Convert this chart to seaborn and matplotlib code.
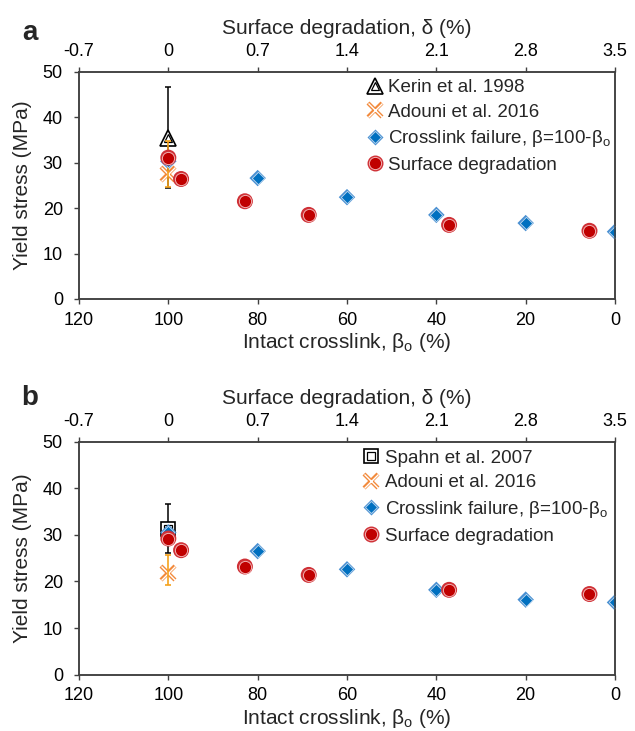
import matplotlib
matplotlib.use("Agg")
import matplotlib.pyplot as plt
import seaborn as sns
from matplotlib.lines import Line2D
from matplotlib.legend_handler import HandlerTuple

sns.set_style("ticks")
plt.rcParams["font.family"] = ["Liberation Sans", "DejaVu Sans"]
plt.rcParams["mathtext.fontset"] = "custom"
plt.rcParams["mathtext.rm"] = "Liberation Sans"
plt.rcParams["mathtext.it"] = "Liberation Sans:italic"

# ---- data -------------------------------------------------------------
beta_cross = [100, 80, 60, 40, 20, 0]                 # intact crosslink (%)
stress_cross_a = [30.3, 26.6, 22.4, 18.5, 16.7, 14.8]
stress_cross_b = [30.5, 26.5, 22.6, 18.2, 16.1, 15.5]

delta_surf = [0.0, 0.1, 0.6, 1.1, 2.2, 3.3]           # surface degradation (%)
stress_surf_a = [31.1, 26.4, 21.5, 18.5, 16.3, 15.0]
stress_surf_b = [29.2, 26.7, 23.2, 21.4, 18.2, 17.3]

# experimental references (beta = 100 %)
exp_beta = [100]
kerin_stress = [35.5]
kerin_err = [[11.1], [11.2]]
spahn_stress = [31.3]
spahn_err = [[5.3], [5.2]]
adouni_stress_a = [27.5]
adouni_err_a = [[2.8], [7.2]]
adouni_stress_b = [21.9]
adouni_err_b = [[2.6], [3.7]]

beta_ticks = [120, 100, 80, 60, 40, 20, 0]
delta_ticks = [-0.7, 0, 0.7, 1.4, 2.1, 2.8, 3.5]
delta_ticklabels = ["-0.7", "0", "0.7", "1.4", "2.1", "2.8", "3.5"]
y_ticks = [0, 10, 20, 30, 40, 50]

labels_a = ["Kerin et al. 1998", "Adouni et al. 2016",
            "Crosslink failure, β=100-β$_\\mathrm{o}$", "Surface degradation"]
labels_b = ["Spahn et al. 2007", "Adouni et al. 2016",
            "Crosslink failure, β=100-β$_\\mathrm{o}$", "Surface degradation"]

# ---- styles -------------------------------------------------------------
BLUE, BLUE_RING, BLUE_GAP = "#0070C0", "#4A90D2", "#BDD7EE"
RED, RED_RING, RED_GAP = "#C00000", "#CF3036", "#F2B2B2"
ORANGE_X, ORANGE_BAR = "#F28A3C", "#F5A21C"
SPINE = "#404040"


def diamonds(ax, x, y):
    sns.scatterplot(x=x, y=y, ax=ax, marker="D", s=8.4 ** 2, color=BLUE_RING,
                    edgecolor="none", zorder=3, legend=False)
    sns.scatterplot(x=x, y=y, ax=ax, marker="D", s=6.3 ** 2, color=BLUE,
                    edgecolor=BLUE_GAP, linewidth=0.6, zorder=4, legend=False)


def circles(ax, x, y):
    sns.scatterplot(x=x, y=y, ax=ax, marker="o", s=11.5 ** 2, color=RED_RING,
                    edgecolor="none", zorder=5, legend=False)
    sns.scatterplot(x=x, y=y, ax=ax, marker="o", s=8.8 ** 2, color=RED,
                    edgecolor=RED_GAP, linewidth=0.7, zorder=6, legend=False)


def cross_marker(ax, x, y, err):
    ax.plot(x, y, ls="none", marker="x", ms=10, mec=ORANGE_X, mew=3.0, zorder=3)
    ax.plot(x, y, ls="none", marker="x", ms=10, mec="white", mew=1.0, zorder=3.1)
    ax.errorbar(x, y, yerr=err, fmt="none", ecolor=ORANGE_BAR, elinewidth=1.2,
                capsize=2.5, capthick=1.2, zorder=3.2)


def ref_marker(ax, x, y, err, marker, ms_out, ms_in):
    ax.errorbar(x, y, yerr=err, fmt="none", ecolor="black", elinewidth=1.1,
                capsize=2.5, capthick=1.1, zorder=2)
    ax.plot(x, y, ls="none", marker=marker, ms=ms_out, mfc="white", mec="black",
            mew=1.2, zorder=2.5)
    ax.plot(x, y, ls="none", marker=marker, ms=ms_in, mfc="none", mec="black",
            mew=0.9, zorder=2.6)
    return (Line2D([], [], ls="none", marker=marker, ms=ms_out, mfc="white",
                   mec="black", mew=1.2),
            Line2D([], [], ls="none", marker=marker, ms=ms_in, mfc="none",
                   mec="black", mew=0.9))


def style_axis(ax, which):
    for sp in ax.spines.values():
        sp.set_color(SPINE)
        sp.set_linewidth(1.1)
    ax.tick_params(axis="both", direction="out", length=3.6, width=1.0,
                   color=SPINE, labelsize=13, labelcolor="black")
    if which == "main":
        ax.tick_params(axis="y", pad=8)
        ax.tick_params(axis="x", pad=5.5)
    else:
        ax.tick_params(axis="x", pad=5.0)


def panel(ax, stress_cross, stress_surf, ref_y, ref_err, ref_mk, ref_sizes,
          ad_y, ad_err, labels, legend_anchor):
    ax_top = ax.twiny()

    diamonds(ax, beta_cross, stress_cross)
    cross_marker(ax, exp_beta, ad_y, ad_err)
    h_ref = ref_marker(ax, exp_beta, ref_y, ref_err, ref_mk, *ref_sizes)
    circles(ax_top, delta_surf, stress_surf)

    ax.set_xlim(120, 0)
    ax_top.set_xlim(-0.7, 3.5)
    ax.set_ylim(0, 50)
    ax.set_xticks(beta_ticks)
    ax.set_xticklabels([str(b) for b in beta_ticks])
    ax.set_yticks(y_ticks)
    ax_top.set_xticks(delta_ticks)
    ax_top.set_xticklabels(delta_ticklabels)

    ax.set_xlabel("Intact crosslink, β$_\\mathrm{o}$ (%)", fontsize=15, labelpad=2)
    ax_top.set_xlabel("Surface degradation, δ (%)", fontsize=15, labelpad=6)
    ax.set_ylabel("Yield stress (MPa)", fontsize=15, labelpad=8)

    style_axis(ax, "main")
    style_axis(ax_top, "top")

    h_x = (Line2D([], [], ls="none", marker="x", ms=10, mec=ORANGE_X, mew=3.0),
           Line2D([], [], ls="none", marker="x", ms=10, mec="white", mew=1.0))
    h_d = (Line2D([], [], ls="none", marker="D", ms=8.4, mfc=BLUE_RING, mec="none"),
           Line2D([], [], ls="none", marker="D", ms=6.3, mfc=BLUE, mec=BLUE_GAP, mew=0.6))
    h_c = (Line2D([], [], ls="none", marker="o", ms=11.5, mfc=RED_RING, mec="none"),
           Line2D([], [], ls="none", marker="o", ms=8.8, mfc=RED, mec=RED_GAP, mew=0.7))
    ax_top.legend([h_ref, h_x, h_d, h_c], labels,
                  handler_map={tuple: HandlerTuple(ndivide=1, pad=0)},
                  loc="upper left", bbox_to_anchor=legend_anchor, frameon=False,
                  fontsize=13.5, handlelength=1.0, handletextpad=0.2,
                  borderpad=0, borderaxespad=0, labelspacing=0.4)
    return ax_top


fig = plt.figure(figsize=(6.35, 7.31), dpi=100)
ax_a = fig.add_axes([0.1244, 0.5910, 0.8441, 0.3109])
ax_b = fig.add_axes([0.1244, 0.0770, 0.8441, 0.3190])

panel(ax_a, stress_cross_a, stress_surf_a, kerin_stress, kerin_err, "^", (11, 5.5),
      adouni_stress_a, adouni_err_a, labels_a, (0.535, 0.968))
panel(ax_b, stress_cross_b, stress_surf_b, spahn_stress, spahn_err, "s", (10.5, 6),
      adouni_stress_b, adouni_err_b, labels_b, (0.528, 0.965))

fig.text(0.047, 0.955, "a", fontsize=20, fontweight="bold", ha="center", va="center")
fig.text(0.047, 0.455, "b", fontsize=20, fontweight="bold", ha="center", va="center")

fig.savefig("out.png", dpi=100)
